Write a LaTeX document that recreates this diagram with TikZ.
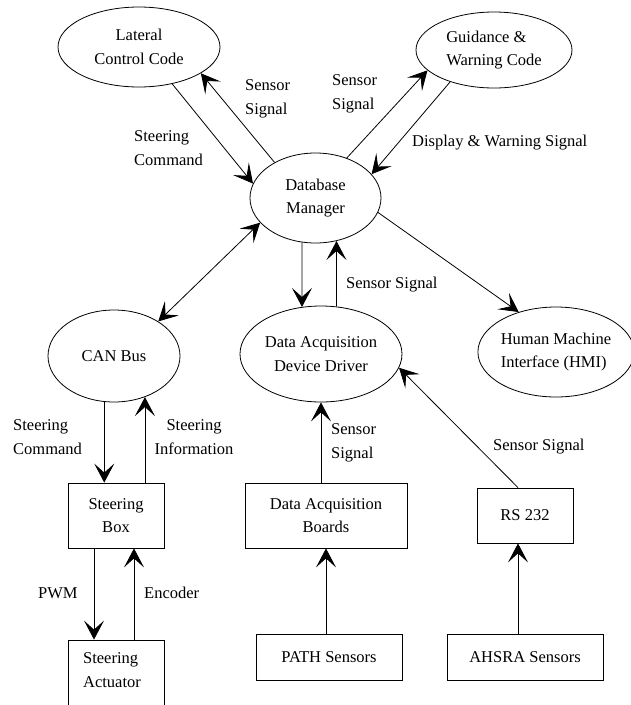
\documentclass[tikz,border=0pt]{standalone}
\usepackage{fontspec}
\setmainfont{Liberation Serif}
\usetikzlibrary{shapes.geometric,arrows.meta}
\begin{document}
\begin{tikzpicture}[x=1pt,y=-1pt,
  font=\fontsize{16.5}{23.5}\selectfont,
  ell/.style={draw, ellipse, inner sep=0pt, line width=0.8pt},
  box/.style={draw, rectangle, inner sep=0pt, line width=0.8pt},
  lbl/.style={inner sep=0pt, align=left, anchor=west},
  conn/.style={line width=0.8pt, -{Stealth[length=19pt,width=20pt,inset=9pt]}},
  dconn/.style={line width=0.8pt, {Stealth[length=19pt,width=20pt,inset=9pt]}-{Stealth[length=19pt,width=20pt,inset=9pt]}}]
\useasboundingbox (0,0) rectangle (631,705);

% ellipses
\node[ell, minimum width=162pt, minimum height=80pt, align=center] (lat) at (139,47) {Lateral\\Control Code};
\node[ell, minimum width=156pt, minimum height=76pt, align=left] (gwc) at (494,50) {Guidance \&\\Warning Code};
\node[ell, minimum width=131pt, minimum height=90pt, align=center] (db) at (315.5,198) {Database\\Manager};
\node[ell, minimum width=132pt, minimum height=92pt] (can) at (114,356) {CAN Bus};
\node[ell, minimum width=162pt, minimum height=96pt, align=center] (drv) at (321,354) {Data Acquisition\\Device Driver};
\node[ell, minimum width=148pt, minimum height=90pt, align=left] (hmi) at (556,352) {Human Machine\\Interface (HMI)};

% boxes
\node[box, minimum width=96pt, minimum height=65pt, align=center] (sbox) at (116,515.5) {Steering\\Box};
\node[box, minimum width=96pt, minimum height=80pt] (act) at (116,680) {};
\node[inner sep=0pt, align=left] (actt) at (112,670) {Steering\\Actuator};
\node[box, minimum width=162pt, minimum height=65pt, align=center] (dab) at (326,515.5) {Data Acquisition\\Boards};
\node[box, minimum width=96pt, minimum height=55pt] (rs) at (525,515.5) {RS 232};
\node[box, minimum width=146pt, minimum height=46pt] (path) at (329,657) {PATH Sensors};
\node[box, minimum width=156pt, minimum height=46pt] (ahs) at (525,657) {AHSRA Sensors};

% connectors
\draw[conn] (lat.-48.7) -- (db.167);
\draw[conn] (db.139) -- (lat.-23);
\draw[conn] (db.52) -- (gwc.-163);
\draw[conn] (gwc.-144) -- (db.23);
\draw[dconn] (db.-156) -- (can.38.7);
\draw[conn] (db.-107) -- (drv.112);
\draw[conn] (drv.72.4) -- (db.-64.4);
\draw[conn] (db.-13) -- (hmi.133);
\draw[conn] (can.-102.4) -- (can.-102.4 |- sbox.north);
\draw[conn] (sbox.north -| can.-53.8) -- (can.-53.8);
\draw[conn] ([xshift=-22pt]sbox.south) -- ([xshift=-22pt]act.north);
\draw[conn] ([xshift=18pt]act.north) -- ([xshift=18pt]sbox.south);
\draw[conn] (dab.north -| drv.south) -- (drv.south);
\draw[conn] (path.north -| dab.south) -- (dab.south);
\draw[conn] ([xshift=-7pt]ahs.north) -- ([xshift=-7pt]rs.south);
\draw[conn] ([xshift=-7pt]rs.north) -- (drv.-10);

% labels
\node[lbl] (l1) at (245,99) {Sensor\\Signal};
\node[lbl] (l2) at (134,148) {Steering\\Command};
\node[lbl] (l3) at (332,94) {Sensor\\Signal};
\node[lbl] (l4) at (412,143) {Display \& Warning Signal};
\node[lbl] (l5) at (346,285) {Sensor Signal};
\node[lbl] (l6) at (13,437) {Steering\\Command};
\node[inner sep=0pt, align=center] (l7) at (194,437) {Steering\\Information};
\node[lbl] (l8) at (38,593) {PWM};
\node[lbl] (l9) at (144,593) {Encoder};
\node[lbl] (l10) at (331,443) {Sensor\\Signal};
\node[lbl] (l11) at (493,447) {Sensor Signal};
\end{tikzpicture}
\end{document}
